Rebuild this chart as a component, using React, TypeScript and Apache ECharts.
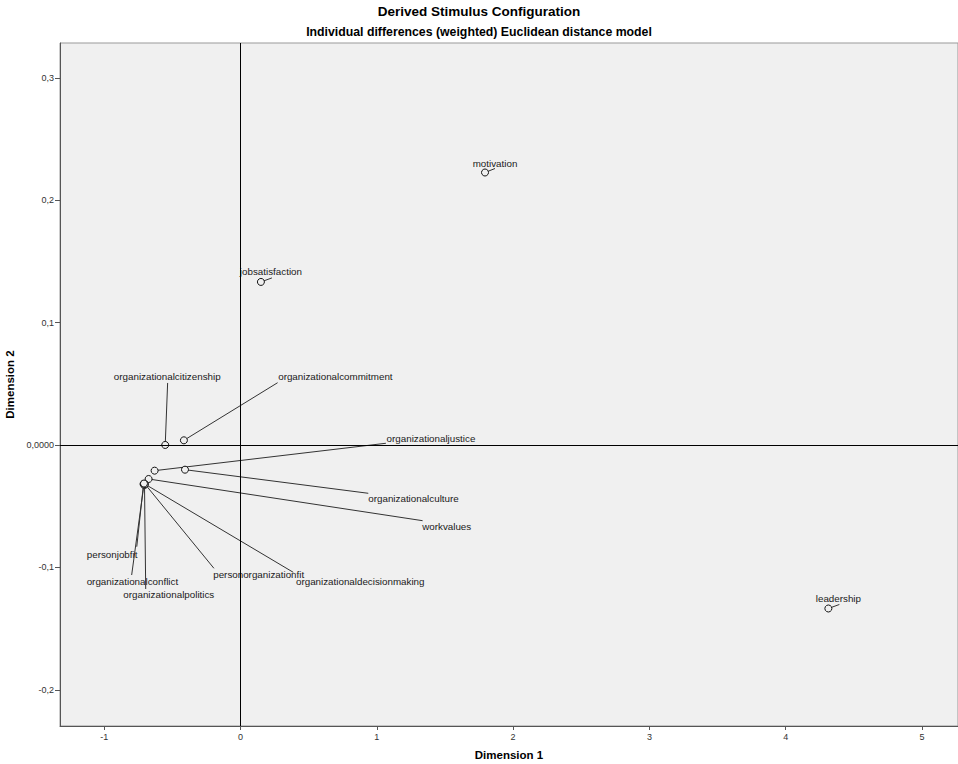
import React, { useEffect, useRef } from "react";
import * as echarts from "echarts";

// Stimulus names and their coordinates (Dimension 1, Dimension 2)
const stimuli = [
  "motivation",
  "jobsatisfaction",
  "leadership",
  "organizationalcitizenship",
  "organizationalcommitment",
  "organizationaljustice",
  "organizationalculture",
  "workvalues",
  "personjobfit",
  "organizationalconflict",
  "organizationalpolitics",
  "personorganizationfit",
  "organizationaldecisionmaking",
];
const dimension1 = [1.794, 0.15, 4.313, -0.552, -0.415, -0.63, -0.407, -0.674, -0.711, -0.708, -0.704, -0.701, -0.708];
const dimension2 = [0.2226, 0.1332, -0.1336, 0.0, 0.0038, -0.021, -0.0202, -0.0278, -0.0319, -0.0323, -0.0327, -0.0319, -0.0315];

// Axis ticks and their labels
const xTicks = [-1, 0, 1, 2, 3, 4, 5];
const xTickLabels = ["-1", "0", "1", "2", "3", "4", "5"];
const yTicks = [-0.2, -0.1, 0, 0.1, 0.2, 0.3];
const yTickLabels = ["-0,2", "-0,1", "0,0000", "0,1", "0,2", "0,3"];

// Label placement (pixel offsets from the point): text dx, text dy, align, leader end dx, leader end dy
const labelPlacement: [number, number, string, number, number][] = [
  [10, -9.5, "center", 10, -4],
  [10, -10, "center", 11, -4],
  [10, -10, "center", 11, -4],
  [2, -68.6, "center", 2.4, -62],
  [94.3, -63.6, "left", 93.7, -57.6],
  [232, -32.4, "left", 231.3, -27.4],
  [183.3, 29.3, "left", 183.3, 23.6],
  [273.6, 47.7, "left", 274, 41.7],
  [-56.8, 70, "left", -6.8, 62.7],
  [-57.3, 97.2, "left", -12.3, 90.5],
  [-21.2, 110, "left", 1.2, 104],
  [68.3, 90.3, "left", 69, 84.3],
  [152, 97.5, "left", 149.3, 88.8],
];

const FONT = "'Liberation Sans', Arial, sans-serif";

export default function App() {
  const ref = useRef<HTMLDivElement>(null);
  useEffect(() => {
    if (!ref.current) return;
    const chart = echarts.init(ref.current, undefined, { renderer: "svg" });
    const points = stimuli.map((n, i) => [dimension1[i], dimension2[i]]);
    chart.setOption({
      animation: false,
      backgroundColor: "#ffffff",
      textStyle: { fontFamily: FONT },
      title: [
        {
          text: "Derived Stimulus Configuration",
          left: "center",
          top: -1,
          textStyle: { fontSize: 13.5, fontWeight: "bold", color: "#000", fontFamily: FONT },
        },
        {
          text: "Individual differences (weighted) Euclidean distance model",
          left: "center",
          top: 21,
          textStyle: { fontSize: 12.3, fontWeight: "bold", color: "#000", fontFamily: FONT },
        },
      ],
      grid: {
        left: 60,
        right: 0,
        top: 43,
        bottom: 38,
        outerBoundsMode: "none",
        containLabel: false,
        show: true,
        backgroundColor: "#f0f0f0",
        borderColor: "#999",
        borderWidth: 1,
      },
      xAxis: {
        type: "value",
        min: -1.324,
        max: 5.264,
        name: "Dimension 1",
        nameLocation: "middle",
        nameGap: 23,
        nameTextStyle: { fontSize: 11.5, fontWeight: "bold", color: "#000", fontFamily: FONT },
        axisLine: { show: true, onZero: false, lineStyle: { color: "#555", width: 1 } },
        axisTick: { show: true, length: 4, customValues: xTicks, lineStyle: { color: "#555" } },
        axisLabel: {
          customValues: xTicks,
          fontSize: 9,
          color: "#333",
          margin: 6,
          formatter: (v: number) => {
            let best = 0;
            xTicks.forEach((t, i) => {
              if (Math.abs(t - v) < Math.abs(xTicks[best] - v)) best = i;
            });
            return xTickLabels[best];
          },
        },
        splitLine: { show: false },
      },
      yAxis: {
        type: "value",
        min: -0.2296,
        max: 0.3284,
        name: "Dimension 2",
        nameLocation: "middle",
        nameGap: 37,
        nameRotate: 90,
        nameTextStyle: { fontSize: 11.5, fontWeight: "bold", color: "#000", fontFamily: FONT },
        axisLine: { show: true, onZero: false, lineStyle: { color: "#555", width: 1 } },
        axisTick: { show: true, length: 5, customValues: yTicks, lineStyle: { color: "#555" } },
        axisLabel: {
          customValues: yTicks,
          fontSize: 9,
          color: "#333",
          margin: 6,
          formatter: (v: number) => {
            let best = 0;
            yTicks.forEach((t, i) => {
              if (Math.abs(t - v) < Math.abs(yTicks[best] - v)) best = i;
            });
            return yTickLabels[best];
          },
        },
        splitLine: { show: false },
      },
      series: [
        {
          type: "custom",
          z: 2,
          data: points,
          renderItem: (params: any, api: any) => {
            const i = params.dataIndex;
            const pt = api.coord([api.value(0), api.value(1)]);
            const L = labelPlacement[i];
            return {
              type: "group",
              children: [
                {
                  type: "line",
                  shape: { x1: pt[0], y1: pt[1], x2: pt[0] + L[3], y2: pt[1] + L[4] },
                  style: { stroke: "#333", lineWidth: 1 },
                },
                {
                  type: "text",
                  x: pt[0] + L[0],
                  y: pt[1] + L[1],
                  style: {
                    text: stimuli[i],
                    textAlign: L[2],
                    textVerticalAlign: "middle",
                    fontSize: 9.8,
                    fontFamily: FONT,
                    fill: "#1a1a1a",
                  },
                },
              ],
            };
          },
          markLine: {
            silent: true,
            symbol: "none",
            label: { show: false },
            lineStyle: { color: "#000", width: 1, type: "solid" },
            data: [{ xAxis: 0 }, { yAxis: 0 }],
          },
        },
        {
          type: "scatter",
          z: 3,
          data: points,
          symbol: "circle",
          symbolSize: 7,
          itemStyle: { color: "#f0f0f0", borderColor: "#111", borderWidth: 1, opacity: 1 },
          emphasis: { disabled: true },
        },
      ],
    });
    return () => chart.dispose();
  }, []);
  return (
    <div
      ref={ref}
      style={{ position: "absolute", left: 0, top: 0, width: 958, height: 764 }}
    />
  );
}
